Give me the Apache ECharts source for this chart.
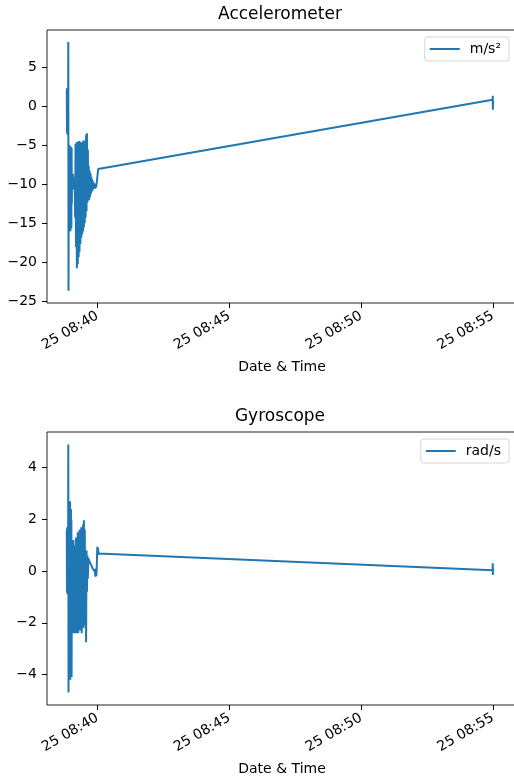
<!DOCTYPE html>
<html>
<head>
<meta charset="utf-8">
<script src="https://cdn.jsdelivr.net/npm/echarts@6/dist/echarts.min.js"></script>
<style>
html, body { margin: 0; padding: 0; background: #fff; }
#chart { width: 514px; height: 780px; }
</style>
</head>
<body>
<div id="chart"></div>
<script>
// seconds after 25 08:38:50
var accel_t = [0, 0.5, 1, 1.5, 2, 2.5, 3, 3.5, 4, 4.5,
    5, 5.5, 6, 6.5, 7, 7.5, 8, 8.5, 9, 9.5, 10, 10.5, 11, 11.5, 12,
    13, 14, 15, 16, 17, 18, 19,
    20, 21, 22, 23, 24, 25, 26, 27, 28, 29, 30, 31, 32, 33, 34,
    35, 36, 37, 38, 39, 40, 41, 42, 43, 44, 45, 46, 47, 48, 49,
    50, 51, 52, 53, 54, 55, 56, 57, 58, 59, 60, 61, 62, 63, 64,
    65, 66, 67, 68, 69, 70, 71, 71.6, 72.4,
    969.5, 969.8, 970.1, 970.4, 970.7]
var accel_v = [2.2, -3.3, 2.4, -3.6, 1.5, -2.2, -0.6, 8.3, -23.6, -9.8,
    -4.9, -15.8, -5.2, -16.0, -5.0, -15.5, -5.6, -15.9, -5.1, -14.8, -6.0, -15.6, -5.3, -12.4, -8.8,
    -10.4, -8.6, -10.6, -9.0, -10.2, -9.3, -14.2,
    -4.8, -18.0, -4.6, -20.7, -4.5, -20.2, -4.7, -19.3, -4.4, -18.6, -4.8, -17.6, -4.5, -16.8, -4.9,
    -16.4, -4.6, -16.0, -4.3, -15.5, -5.0, -14.9, -4.4, -14.2, -3.6, -13.4, -3.4, -12.3, -5.5, -11.8,
    -7.6, -12.0, -8.2, -11.6, -8.5, -11.2, -9.0, -10.9, -9.3, -10.7, -9.6, -10.5, -9.8, -10.4, -10.0,
    -10.5, -9.9, -10.3, -10.1, -10.4, -10.2, -10.3, -8.0, -8.2,
    0.9, 1.4, -0.4, 0.8, 0.3]

var gyro_t = [0, 0.5, 1, 1.5, 2, 2.5, 3, 3.5, 4, 4.5,
    5, 5.5, 6, 6.5, 7, 7.5, 8, 8.5, 9, 9.5, 10, 10.5, 11, 11.5, 12,
    13, 14, 15, 16, 17, 18, 19, 20,
    21, 22, 23, 24, 25, 26, 27, 28, 29, 30, 31, 32, 33, 34,
    35, 36, 37, 38, 39, 40, 41, 42, 43, 44, 45, 46, 47, 48,
    49, 51, 53, 55, 57, 59, 61, 63, 64, 65, 66, 67, 68,
    69.5, 70.2, 71, 72.4,
    969.5, 969.8, 970.1, 970.4, 970.7]
var gyro_v = [1.6, -0.8, 1.7, -0.9, 0.6, -0.5, 0.2, 4.9, -4.7, 2.7,
    -3.2, 2.6, -4.0, 2.4, -2.6, 2.7, -4.2, 1.5, -3.5, 2.4, -1.3, 2.0, -4.1, 0.8, -1.0,
    0.3, -2.4, 1.2, -1.5, 1.0, -2.4, 0.5, -0.7,
    1.3, -2.4, 0.4, -1.8, 1.5, -2.4, 1.4, -1.2, 1.6, -2.3, 1.2, -2.0, 1.7, -2.4,
    1.5, -1.6, 1.8, -2.2, 1.97, -1.0, 1.6, -2.1, 0.8, -2.75, 0.8, -0.8, 0.6, -0.3,
    0.5, 0.4, 0.35, 0.25, 0.2, 0.1, 0.05, 0.0, 0.08, -0.22, 0.1, -0.2, 0.0,
    0.94, 0.62, 0.9, 0.68,
    0.03, 0.3, -0.15, 0.1, 0.0]

var accel_ticks = [-25, -20, -15, -10, -5, 0, 5]
var gyro_ticks = [-4, -2, 0, 2, 4]
var time_ticks = ['08:40', '08:45', '08:50', '08:55']

var blue = '#1f77b4'
var font = 'DejaVu Sans'

// x axis works in seconds of the day
function sec(h, m, s) {
    return h * 3600 + m * 60 + s
}
var start = sec(8, 38, 50)
var x_min = sec(8, 38, 5)
var x_max = sec(8, 55, 55)

function pairs(ts, vs) {
    var out = []
    for (var i = 0; i < ts.length; i++) {
        out.push([start + ts[i], vs[i]])
    }
    return out
}

var tick_vals = time_ticks.map(function(s) {
    var p = s.split(':')
    return sec(+p[0], +p[1], 0)
})

function pad(n) { return (n < 10 ? '0' : '') + n }

function x_axis(idx) {
    return {
        type: 'value',
        gridIndex: idx,
        min: x_min,
        max: x_max,
        name: 'Date & Time',
        nameLocation: 'middle',
        nameGap: 57,
        nameTextStyle: { color: '#000', fontSize: 14, fontFamily: font },
        axisLine: { show: false, onZero: false },
        axisTick: { show: true, inside: false, length: 5, customValues: tick_vals,
            lineStyle: { color: '#000', width: 1 } },
        axisLabel: {
            customValues: tick_vals,
            rotate: 30,
            margin: 12,
            color: '#000',
            fontSize: 14,
            fontFamily: font,
            formatter: function(v) {
                var h = Math.floor(v / 3600)
                var m = Math.round((v - h * 3600) / 60)
                return '25 ' + pad(h) + ':' + pad(m)
            }
        },
        splitLine: { show: false }
    }
}

function y_axis(idx, lo, hi, ticks) {
    return {
        type: 'value',
        gridIndex: idx,
        min: lo,
        max: hi,
        axisLine: { show: false },
        axisTick: { show: true, inside: false, length: 5, customValues: ticks,
            lineStyle: { color: '#000', width: 1 } },
        axisLabel: {
            customValues: ticks,
            margin: 10,
            color: '#000',
            fontSize: 14,
            fontFamily: font,
            formatter: function(v) {
                return v < 0 ? '\u2212' + (-v) : '' + v
            }
        },
        splitLine: { show: false }
    }
}

function legend(name, top) {
    return {
        data: [name],
        right: 5,
        top: top,
        orient: 'vertical',
        icon: 'rect',
        itemWidth: 30,
        itemHeight: 2,
        padding: [5, 8, 5, 5],
        backgroundColor: '#fff',
        borderColor: '#d6d6d6',
        borderWidth: 1,
        borderRadius: 3,
        textStyle: { color: '#000', fontSize: 14, fontFamily: font, padding: [0, 0, 0, 5] }
    }
}

function line(name, idx, data) {
    return {
        name: name,
        type: 'line',
        xAxisIndex: idx,
        yAxisIndex: idx,
        data: data,
        showSymbol: false,
        symbol: 'none',
        color: blue,
        lineStyle: { color: blue, width: 2 },
        z: 3
    }
}

var option = {
    animation: false,
    backgroundColor: '#fff',
    title: [
        { text: 'Accelerometer', left: 280, top: 6, textAlign: 'center', padding: 0,
          textStyle: { color: '#000', fontSize: 17, fontWeight: 'normal', fontFamily: font } },
        { text: 'Gyroscope', left: 280, top: 408, textAlign: 'center', padding: 0,
          textStyle: { color: '#000', fontSize: 17, fontWeight: 'normal', fontFamily: font } }
    ],
    legend: [
        legend('m/s\u00b2', 37),
        legend('rad/s', 439)
    ],
    grid: [
        { left: 47, top: 30, width: 470, height: 273, show: true, outerBoundsMode: 'none',
          borderColor: '#222', borderWidth: 1, backgroundColor: 'transparent' },
        { left: 47, top: 432, width: 470, height: 273, show: true, outerBoundsMode: 'none',
          borderColor: '#222', borderWidth: 1, backgroundColor: 'transparent' }
    ],
    xAxis: [x_axis(0), x_axis(1)],
    yAxis: [
        y_axis(0, -25.17, 9.83, accel_ticks),
        y_axis(1, -5.18, 5.38, gyro_ticks)
    ],
    series: [
        line('m/s\u00b2', 0, pairs(accel_t, accel_v)),
        line('rad/s', 1, pairs(gyro_t, gyro_v))
    ]
}

var myChart = echarts.init(document.getElementById('chart'))
myChart.setOption(option)
</script>
</body>
</html>
